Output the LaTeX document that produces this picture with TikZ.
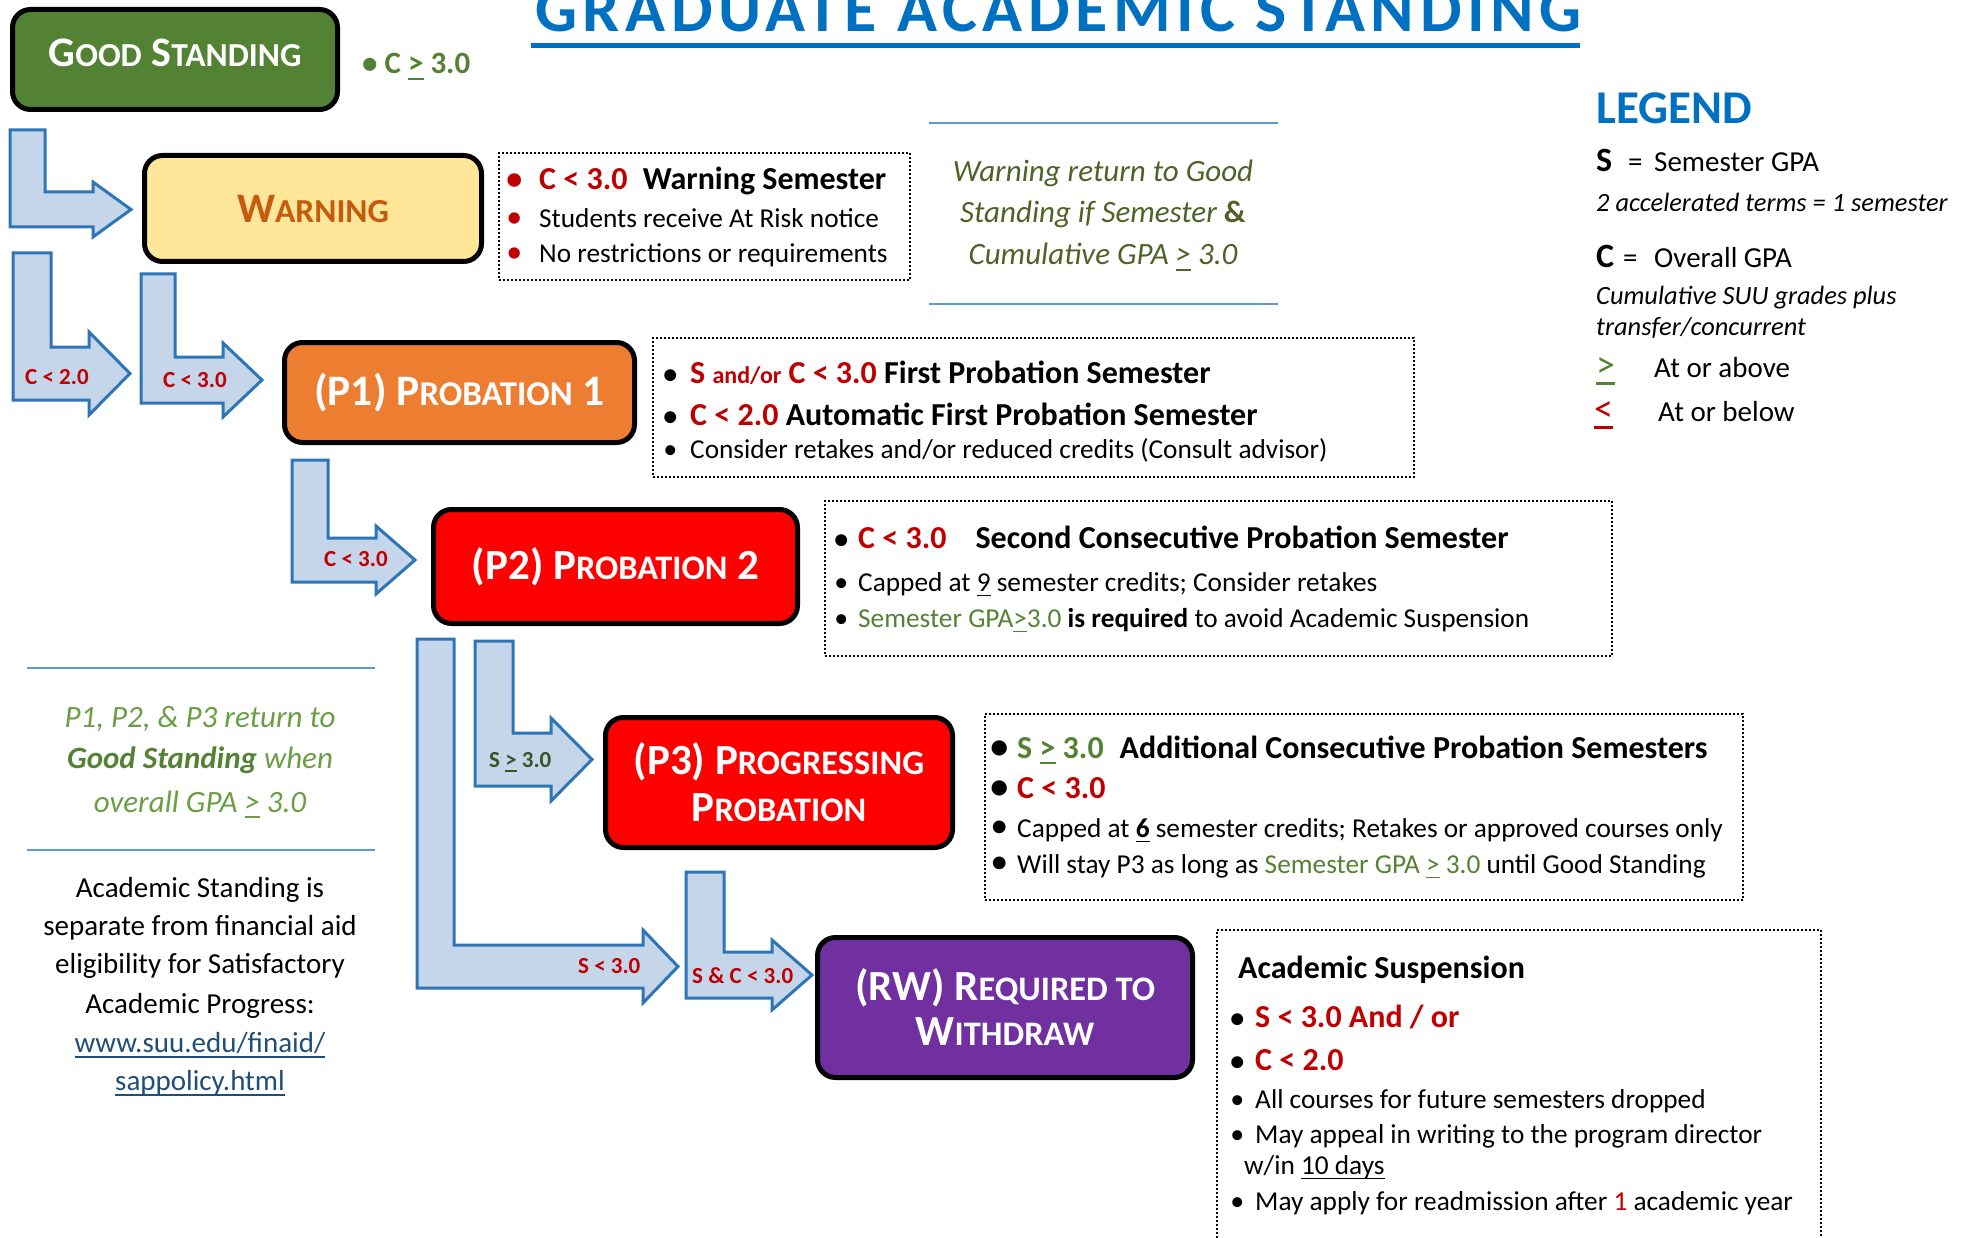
\documentclass[tikz,border=0pt]{standalone}
\usepackage{fontspec}
\setmainfont{Carlito}
\newfontfamily\titlefont{Carlito}[LetterSpace=8.6]
\usepackage{xcolor}
\usetikzlibrary{calc}

\definecolor{gsgreen}{HTML}{548235}
\definecolor{darkgreen}{HTML}{375623}
\definecolor{notegreen}{HTML}{6A9E45}
\definecolor{noteolive}{HTML}{4F6228}
\definecolor{warnfill}{HTML}{FFE699}
\definecolor{warnorange}{HTML}{C55A11}
\definecolor{probor}{HTML}{ED7D31}
\definecolor{probred}{HTML}{FF0000}
\definecolor{rwpurple}{HTML}{7030A0}
\definecolor{condred}{HTML}{C00000}
\definecolor{titleblue}{HTML}{0070C0}
\definecolor{rulesblue}{HTML}{5B9BD5}
\definecolor{arrowfill}{HTML}{C5D5EA}
\definecolor{arrowedge}{HTML}{2E75B6}
\definecolor{linkblue}{HTML}{1F4E79}

% small capitals made by hand
\makeatletter
\newcommand\lowcap[1]{{\fontsize{\fpeval{0.8*\f@size}}{\f@baselineskip}\selectfont #1}}
\makeatother
% underlined text (used for >= signs)
\newcommand\ulx[1]{\leavevmode\setbox0=\hbox{#1}\rlap{\rule[-0.2em]{\wd0}{0.07em}}\box0\relax}
% bullet hung left of the text: [colour]{size}{gap}
\newcommand\bul[3][black]{\llap{{\fontsize{#2}{#2}\selectfont\textcolor{#1}{•}}\hspace{#3}}}
% bent block arrow: stem left, stem right, top, bar top, bar bottom, head base, head extra, tip
\newcommand\bentarrow[8]{%
  \draw[blockarrow] (#1,#3) -- (#2,#3) -- (#2,#4) -- (#6,#4) -- (#6,#4-#7)
    -- (#8,{(#4+#5)/2}) -- (#6,#5+#7) -- (#6,#5) -- (#1,#5) -- cycle;}

\begin{document}
\begin{tikzpicture}[x=1pt,y=-1pt,
    stbox/.style={draw=black, line width=5pt, rounded corners=18pt, text=white,
      align=center, inner sep=0pt},
    infobox/.style={draw=black, line width=2pt, dash pattern=on 2pt off 2pt,
      inner sep=0pt, anchor=north west},
    blockarrow/.style={fill=arrowfill, draw=arrowedge, line width=3pt, line join=miter},
    txt/.style={anchor=base west, inner sep=0pt, font=\fontsize{27.3}{32}\selectfont},
    boldtxt/.style={anchor=base west, inner sep=0pt, font=\bfseries\fontsize{32}{36}\selectfont},
    lbl/.style={anchor=base west, inner sep=0pt, text=condred,
      font=\bfseries\fontsize{23}{26}\selectfont},
    sepline/.style={draw=rulesblue, line width=2.5pt}]
  \useasboundingbox (0,0) rectangle (1969,1238);

  % title
  \node[anchor=base west, inner sep=0pt, text=titleblue,
    font=\titlefont\bfseries\fontsize{66}{70}\selectfont] (title) at (535,32)
    {GRADUATE ACADEMIC STANDING};
  \draw[titleblue, line width=5pt] ([shift={(-4,14)}]title.base west)
    -- ([shift={(-2,14)}]title.base east);

  % block arrows
  \bentarrow{10}{45}{130}{192}{227}{93}{10}{131}
  \bentarrow{13}{51}{253}{347}{400}{89}{15}{130}
  \bentarrow{141}{175}{274}{357}{403}{223}{14}{262}
  \bentarrow{292}{328}{460}{538}{582}{376}{12}{415}
  \bentarrow{475}{513}{641}{733}{786}{551}{15}{592}
  \bentarrow{417}{454}{639}{945}{988}{643}{15}{678}
  \bentarrow{686}{724}{872}{952}{998}{772}{12}{812}
  \node[lbl] (lc20) at (25,384) {C < 2.0};
  \node[lbl] (lc30a) at (163,387) {C < 3.0};
  \node[lbl] (lc30b) at (324,566) {C < 3.0};
  \node[lbl, text=darkgreen] (ls30a) at (489,767) {S \ulx{>} 3.0};
  \node[lbl] (ls30b) at (578,973) {S < 3.0};
  \node[lbl] (lsc30) at (692,983) {S \& C < 3.0};

  % standing boxes
  \node[stbox, fill=gsgreen, minimum width=325pt, minimum height=100pt,
    font=\bfseries\fontsize{42}{46}\selectfont] (good) at (175,59.5)
    {\raisebox{13pt}{G\lowcap{OOD} S\lowcap{TANDING}}};
  \node[anchor=base west, inner sep=0pt, text=gsgreen,
    font=\bfseries\fontsize{31}{34}\selectfont] (goodcond) at (362,74) {• C \ulx{>} 3.0};
  \node[stbox, fill=warnfill, text=warnorange, minimum width=337pt, minimum height=106pt,
    font=\bfseries\fontsize{42}{46}\selectfont] (warn) at (313,208.5) {W\lowcap{ARNING}};
  \node[stbox, fill=probor, minimum width=350pt, minimum height=100pt,
    font=\bfseries\fontsize{43.5}{46}\selectfont] (p1) at (459.5,392.5)
    {\raisebox{-9pt}{(P1) P\lowcap{ROBATION} 1}};
  \node[stbox, fill=probred, minimum width=364pt, minimum height=114pt,
    font=\bfseries\fontsize{43}{48}\selectfont] (p2) at (615.5,566.5)
    {(P2) P\lowcap{ROBATION} 2};
  \node[stbox, fill=probred, minimum width=347pt, minimum height=130pt,
    font=\bfseries\fontsize{43}{47}\selectfont] (p3) at (779,782.5)
    {(P3) P\lowcap{ROGRESSING}\\P\lowcap{ROBATION}};
  \node[stbox, fill=rwpurple, minimum width=375pt, minimum height=140pt,
    font=\bfseries\fontsize{43}{45}\selectfont] (rw) at (1005,1007.5)
    {(RW) R\lowcap{EQUIRED TO}\\W\lowcap{ITHDRAW}};

  % warning details
  \node[infobox, minimum width=411pt, minimum height=127pt] (warninfo) at (498,152) {};
  \node[boldtxt] (w1) at (539,190)
    {\bul[condred]{32}{17pt}\textcolor{condred}{C < 3.0}\hspace{8pt} Warning Semester};
  \node[txt] (w2) at (539,228) {\bul[condred]{32}{17pt}Students receive At Risk notice};
  \node[txt] (w3) at (539,263) {\bul[condred]{32}{17pt}No restrictions or requirements};

  % warning note
  \draw[sepline] (929,123) -- (1278,123);
  \draw[sepline] (929,304) -- (1278,304);
  \node[anchor=base, inner sep=0pt, text=noteolive, font=\itshape\fontsize{31}{36}\selectfont]
    (wn1) at (1103,182) {Warning return to Good};
  \node[anchor=base, inner sep=0pt, text=noteolive, font=\itshape\fontsize{31}{36}\selectfont]
    (wn2) at (1103,223) {Standing if Semester {\upshape\bfseries\&}};
  \node[anchor=base, inner sep=0pt, text=noteolive, font=\itshape\fontsize{31}{36}\selectfont]
    (wn3) at (1103,265) {Cumulative GPA \ulx{>} 3.0};

  % P1 details
  \node[infobox, minimum width=761pt, minimum height=139pt] (p1info) at (652,337) {};
  \node[boldtxt] (q1) at (690,383) {\bul{28}{13pt}\textcolor{condred}{S
    {\fontsize{24}{26}\selectfont and/or} C < 3.0} First Probation Semester};
  \node[boldtxt] (q2) at (690,425)
    {\bul{28}{13pt}\textcolor{condred}{C < 2.0} Automatic First Probation Semester};
  \node[txt] (q3) at (690,458)
    {\bul{28}{13pt}Consider retakes and/or reduced credits (Consult advisor)};

  % P2 details
  \node[infobox, minimum width=787pt, minimum height=155pt] (p2info) at (824,500) {};
  \node[boldtxt] (r1) at (858,548)
    {\bul{28}{10pt}\textcolor{condred}{C < 3.0}\hspace{29pt}Second Consecutive Probation Semester};
  \node[txt] (r2) at (858,591)
    {\bul{28}{10pt}Capped at \ulx{9} semester credits; Consider retakes};
  \node[txt] (r3) at (858,627) {\bul{28}{10pt}\textcolor{gsgreen}{Semester GPA\ulx{>}3.0}
    \textbf{is required} to avoid Academic Suspension};

  % P3 details
  \node[infobox, minimum width=758pt, minimum height=186pt] (p3info) at (984,713) {};
  \node[boldtxt] (t1) at (1017,758) {\bul{36}{9pt}\textcolor{gsgreen}{S \ulx{>} 3.0}\hspace{16pt}Additional
    Consecutive Probation Semesters};
  \node[boldtxt] (t2) at (1017,798) {\bul{36}{9pt}\textcolor{condred}{C < 3.0}};
  \node[txt] (t3) at (1017,837) {\bul{36}{9pt}Capped at \ulx{\textbf{6}} semester credits;
    Retakes or approved courses only};
  \node[txt] (t4) at (1017,873) {\bul{36}{9pt}Will stay P3 as long as
    \textcolor{gsgreen}{Semester GPA \ulx{>} 3.0} until Good Standing};

  % suspension details
  \node[infobox, minimum width=604pt, minimum height=330pt] (rwinfo) at (1216,929) {};
  \node[boldtxt] (s0) at (1238,978) {Academic Suspension};
  \node[boldtxt] (s1) at (1255,1027) {\bul{28}{11pt}\textcolor{condred}{S < 3.0 And / or}};
  \node[boldtxt] (s2) at (1255,1070) {\bul{28}{11pt}\textcolor{condred}{C < 2.0}};
  \node[txt] (s3) at (1255,1108) {\bul{28}{11pt}All courses for future semesters dropped};
  \node[txt] (s4) at (1255,1143) {\bul{28}{11pt}May appeal in writing to the program director};
  \node[txt] (s5) at (1244,1174) {w/in \ulx{10 days}};
  \node[txt] (s6) at (1255,1210)
    {\bul{28}{11pt}May apply for readmission after \textcolor{condred}{1} academic year};

  % left notes
  \draw[sepline] (27,668) -- (375,668);
  \draw[sepline] (27,850) -- (375,850);
  \node[anchor=base, inner sep=0pt, text=notegreen, font=\itshape\fontsize{31}{36}\selectfont]
    (ln1) at (200,727) {P1, P2, \& P3 return to};
  \node[anchor=base, inner sep=0pt, text=notegreen, font=\itshape\fontsize{31}{36}\selectfont]
    (ln2) at (200,768) {\textcolor{gsgreen}{\bfseries Good Standing} when};
  \node[anchor=base, inner sep=0pt, text=notegreen, font=\itshape\fontsize{31}{36}\selectfont]
    (ln3) at (200,812) {overall GPA \ulx{>} 3.0};
  \node[anchor=base, inner sep=0pt, font=\fontsize{29}{34}\selectfont] (a1) at (200,897) {Academic Standing is};
  \node[anchor=base, inner sep=0pt, font=\fontsize{29}{34}\selectfont] (a2) at (200,935) {separate from financial aid};
  \node[anchor=base, inner sep=0pt, font=\fontsize{29}{34}\selectfont] (a3) at (200,973) {eligibility for Satisfactory};
  \node[anchor=base, inner sep=0pt, font=\fontsize{29}{34}\selectfont] (a4) at (200,1013) {Academic Progress:};
  \node[anchor=base, inner sep=0pt, text=linkblue, font=\fontsize{29}{34}\selectfont]
    (a5) at (200,1052) {\ulx{www.suu.edu/finaid/}};
  \node[anchor=base, inner sep=0pt, text=linkblue, font=\fontsize{29}{34}\selectfont]
    (a6) at (200,1090) {\ulx{sappolicy.html}};

  % legend
  \node[anchor=base west, inner sep=0pt, text=titleblue, font=\bfseries\fontsize{47}{50}\selectfont]
    (legend) at (1596,124) {LEGEND};
  \node[anchor=base west, inner sep=0pt, font=\fontsize{29}{34}\selectfont] (legs) at (1596,172)
    {\makebox[32pt][l]{\bfseries\fontsize{34}{36}\selectfont S}\makebox[26pt][l]{=}Semester GPA};
  \node[anchor=base west, inner sep=0pt, font=\itshape\fontsize{26.4}{30}\selectfont] (legs2) at (1596,212)
    {2 accelerated terms = 1 semester};
  \node[anchor=base west, inner sep=0pt, font=\fontsize{29}{34}\selectfont] (legc) at (1596,268)
    {\makebox[27pt][l]{\bfseries\fontsize{34}{36}\selectfont C}\makebox[31pt][l]{=}Overall GPA};
  \node[anchor=base west, inner sep=0pt, font=\itshape\fontsize{26.4}{30}\selectfont] (legc2) at (1596,305)
    {Cumulative SUU grades plus};
  \node[anchor=base west, inner sep=0pt, font=\itshape\fontsize{26.4}{30}\selectfont] (legc3) at (1596,336)
    {transfer/concurrent};
  \node[anchor=base west, inner sep=0pt, font=\fontsize{29}{34}\selectfont] (legge) at (1596,377)
    {\makebox[58pt][l]{\fontsize{38}{38}\selectfont\textcolor{gsgreen}{\ulx{>}}}At or above};
  \node[anchor=base west, inner sep=0pt, font=\fontsize{29}{34}\selectfont] (legle) at (1594,421)
    {\makebox[64pt][l]{\fontsize{38}{38}\selectfont\textcolor{condred}{\ulx{<}}}At or below};
\end{tikzpicture}
\end{document}
